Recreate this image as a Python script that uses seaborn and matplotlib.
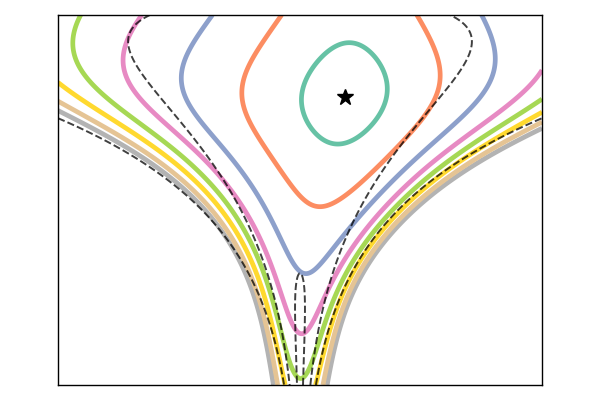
import numpy as np
import matplotlib
matplotlib.use("Agg")
import matplotlib.pyplot as plt
import seaborn as sns

# axis ranges: theta (horizontal) and log tau (vertical)
theta_range = [-20.0, 20.0]
log_tau_range = [-1.359, 2.595]

# prior: theta ~ N(0, tau), tau ~ half-Cauchy(0, 1)  -> dashed contours
prior_levels = [-13.153, -5.624, -0.542]

log_floor = -0.957          # extra funnel variance, log
obs_mean = 4.218            # centre of the data term
log_obs_scale = 0.812
log_obs_dof = 2.004
log_tau_weight = 1.163
log_tau_width = -0.264
tau_centre = 1.657
tau_slope = 2.269
shift_base = -0.257
shift_gain = 1.075
log_shift_knee = 2.219

# posterior contour levels, low to high (gray ... green)
post_levels = [-20.383, -18.742, -16.553, -14.41, -11.989, -8.728, -4.893, -1.148]


def prior_logp(th, lt):
    return -np.log1p(np.exp(2 * lt)) - 0.5 * th**2 * np.exp(-2 * lt)


def post_logp(th, lt):
    V = np.exp(log_floor)
    s = np.exp(log_obs_scale)
    nu = np.exp(log_obs_dof)
    a = np.exp(log_tau_weight)
    b = np.exp(log_tau_width)
    e2 = np.exp(2 * lt)
    W = e2 + V
    c = shift_base + shift_gain * e2 / (e2 + np.exp(log_shift_knee))
    return (lt - np.log1p(e2) - 0.5 * np.log(W) - 0.5 * (th - c)**2 / W
            - 0.5 * (nu + 1) * np.log1p((th - obs_mean)**2 / (nu * s**2))
            - a * np.log1p(((lt - tau_centre) / b)**2) + tau_slope * lt)


sns.set_style("white")
colors = sns.color_palette("Set2", 8)[::-1]

th = np.linspace(theta_range[0], theta_range[1], 500)
lt = np.linspace(log_tau_range[0], log_tau_range[1], 500)
TH, LT = np.meshgrid(th, lt)
Zpost = post_logp(TH, LT)
Zprior = prior_logp(TH, LT)

fig = plt.figure(figsize=(6, 4), dpi=100)
ax = fig.add_axes([58 / 600, 15 / 400, 484 / 600, 370 / 400])

ax.contour(TH, LT, Zpost, levels=post_levels, colors=colors, linewidths=3.4)
ax.contour(TH, LT, Zprior, levels=prior_levels, colors="k", linestyles="--",
           linewidths=1.4, alpha=0.75)

# mark the posterior mode
i = np.unravel_index(np.argmax(Zpost), Zpost.shape)
ax.plot(TH[i], LT[i], marker="*", color="k", markersize=12, linestyle="none")

ax.set_xlim(theta_range)
ax.set_ylim(log_tau_range)
ax.set_xticks([])
ax.set_yticks([])
for sp in ax.spines.values():
    sp.set_color("k")
    sp.set_linewidth(1.0)

fig.savefig("out.png", dpi=100)
